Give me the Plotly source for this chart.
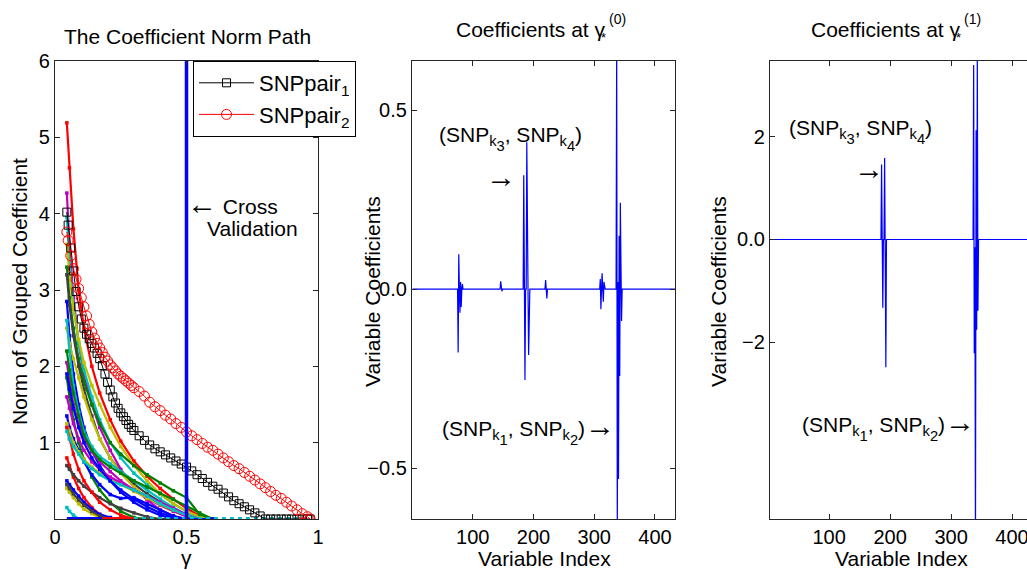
import plotly.graph_objects as go

W, H = 1027, 570

# ---------------- data: left panel (coefficient norm paths) ----------------
GAMMA_HI = [0.045, 0.05, 0.06, 0.07, 0.08, 0.09, 0.10, 0.11, 0.12, 0.13, 0.14, 0.15,
            0.16, 0.17, 0.18, 0.19, 0.20, 0.21, 0.22, 0.23, 0.24, 0.25, 0.26, 0.27,
            0.28, 0.29, 0.30, 0.32, 0.34, 0.36, 0.38, 0.40, 0.42, 0.44, 0.46, 0.48,
            0.50, 0.52, 0.54, 0.56, 0.58, 0.60, 0.62, 0.64, 0.66, 0.68, 0.70, 0.72,
            0.74, 0.76, 0.78, 0.80, 0.82, 0.84, 0.86, 0.88, 0.90, 0.92, 0.94, 0.96, 0.97]
SNPPAIR1 = [4.02, 3.85, 3.55, 3.25, 2.98, 2.78, 2.62, 2.50, 2.42, 2.36, 2.30, 2.24,
            2.17, 2.10, 2.01, 1.90, 1.79, 1.69, 1.60, 1.52, 1.45, 1.39, 1.34, 1.29,
            1.24, 1.20, 1.16, 1.09, 1.03, 0.97, 0.92, 0.88, 0.84, 0.80, 0.76, 0.72,
            0.68, 0.63, 0.58, 0.53, 0.48, 0.43, 0.39, 0.34, 0.29, 0.24, 0.20, 0.16,
            0.12, 0.08, 0.04, 0.0, 0.0, 0.0, 0.0, 0.0, 0.0, 0.0, 0.0, 0.0, 0.0]
SNPPAIR2 = [3.76, 3.65, 3.45, 3.28, 3.14, 3.02, 2.90, 2.78, 2.66, 2.55, 2.45, 2.37,
            2.30, 2.24, 2.18, 2.12, 2.07, 2.02, 1.98, 1.94, 1.90, 1.87, 1.84, 1.81,
            1.78, 1.75, 1.72, 1.67, 1.61, 1.53, 1.47, 1.42, 1.36, 1.31, 1.25, 1.20,
            1.14, 1.09, 1.04, 0.99, 0.94, 0.90, 0.85, 0.80, 0.75, 0.70, 0.66, 0.61,
            0.56, 0.51, 0.46, 0.41, 0.36, 0.31, 0.27, 0.22, 0.17, 0.12, 0.07, 0.03, 0.0]

GAMMA_BG = [0.045, 0.055, 0.07, 0.09, 0.11, 0.14, 0.17, 0.21, 0.25, 0.30, 0.35, 0.40,
            0.45, 0.50, 0.55, 0.60]
BG_COLORS = ["#FF0000", "#BF00BF", "#00BFBF", "#BFBF00", "#008000", "#0000FF",
             "#404040", "#BFBF00", "#BF00BF", "#00BFBF", "#008000", "#0000FF",
             "#FF0000", "#404040", "#00BFBF", "#BFBF00", "#BF00BF", "#008000",
             "#FF0000", "#0000FF", "#00BFBF", "#BFBF00", "#404040", "#0000FF"]
BG_PATHS = [
    [5.19, 4.60, 3.80, 3.00, 2.50, 2.00, 1.65, 1.30, 1.02, 0.76, 0.56, 0.40, 0.26, 0.14, 0.04, 0.0],
    [4.27, 3.60, 2.90, 2.30, 1.90, 1.50, 1.20, 0.90, 0.65, 0.42, 0.25, 0.12, 0.04, 0.0, 0.0, 0.0],
    [3.95, 3.40, 2.80, 2.30, 1.95, 1.60, 1.30, 1.00, 0.80, 0.60, 0.45, 0.32, 0.20, 0.10, 0.02, 0.0],
    [3.60, 3.20, 2.75, 2.35, 2.05, 1.75, 1.50, 1.20, 0.95, 0.70, 0.50, 0.33, 0.20, 0.10, 0.03, 0.0],
    [3.30, 2.90, 2.50, 2.10, 1.80, 1.50, 1.25, 1.00, 0.85, 0.70, 0.58, 0.47, 0.37, 0.28, 0.06, 0.0],
    [2.85, 2.40, 1.90, 1.50, 1.20, 0.90, 0.70, 0.50, 0.35, 0.22, 0.12, 0.05, 0.0, 0.0, 0.0, 0.0],
    [3.20, 2.80, 2.40, 2.00, 1.70, 1.35, 1.05, 0.80, 0.62, 0.46, 0.33, 0.22, 0.12, 0.04, 0.0, 0.0],
    [2.50, 2.30, 2.10, 1.85, 1.60, 1.30, 1.05, 0.80, 0.60, 0.42, 0.28, 0.18, 0.10, 0.04, 0.0, 0.0],
    [2.05, 1.80, 1.50, 1.25, 1.05, 0.88, 0.75, 0.62, 0.50, 0.38, 0.27, 0.18, 0.10, 0.03, 0.0, 0.0],
    [2.60, 2.20, 1.75, 1.40, 1.15, 0.95, 0.82, 0.72, 0.62, 0.50, 0.38, 0.26, 0.15, 0.06, 0.0, 0.0],
    [1.85, 1.60, 1.30, 1.00, 0.78, 0.55, 0.38, 0.22, 0.10, 0.02, 0.0, 0.0, 0.0, 0.0, 0.0, 0.0],
    [1.35, 1.20, 1.05, 0.90, 0.75, 0.58, 0.45, 0.32, 0.27, 0.28, 0.20, 0.11, 0.04, 0.0, 0.0, 0.0],
    [0.80, 0.70, 0.55, 0.40, 0.28, 0.15, 0.06, 0.0, 0.0, 0.0, 0.0, 0.0, 0.0, 0.0, 0.0, 0.0],
    [0.70, 0.65, 0.58, 0.50, 0.43, 0.35, 0.28, 0.20, 0.14, 0.08, 0.03, 0.0, 0.0, 0.0, 0.0, 0.0],
    [0.15, 0.10, 0.05, 0.0, 0.0, 0.0, 0.0, 0.0, 0.0, 0.0, 0.0, 0.0, 0.0, 0.0, 0.0, 0.0],
    [1.25, 1.15, 1.00, 0.88, 0.78, 0.68, 0.60, 0.52, 0.45, 0.36, 0.27, 0.19, 0.12, 0.05, 0.0, 0.0],
    [1.60, 1.45, 1.25, 1.05, 0.90, 0.75, 0.65, 0.55, 0.47, 0.38, 0.30, 0.22, 0.14, 0.06, 0.0, 0.0],
    [2.20, 1.95, 1.65, 1.35, 1.10, 0.90, 0.78, 0.68, 0.60, 0.50, 0.42, 0.34, 0.26, 0.17, 0.08, 0.0],
    [1.20, 1.05, 0.85, 0.65, 0.50, 0.35, 0.22, 0.12, 0.05, 0.0, 0.0, 0.0, 0.0, 0.0, 0.0, 0.0],
    [0.50, 0.45, 0.38, 0.30, 0.22, 0.13, 0.06, 0.02, 0.0, 0.0, 0.0, 0.0, 0.0, 0.0, 0.0, 0.0],
    [1.15, 1.05, 0.95, 0.85, 0.75, 0.66, 0.58, 0.50, 0.45, 0.38, 0.30, 0.20, 0.12, 0.05, 0.0, 0.0],
    [0.40, 0.35, 0.28, 0.20, 0.13, 0.07, 0.02, 0.0, 0.0, 0.0, 0.0, 0.0, 0.0, 0.0, 0.0, 0.0],
    [0.45, 0.40, 0.33, 0.25, 0.18, 0.10, 0.04, 0.0, 0.0, 0.0, 0.0, 0.0, 0.0, 0.0, 0.0, 0.0],
    [1.90, 1.70, 1.45, 1.20, 1.00, 0.80, 0.65, 0.50, 0.38, 0.26, 0.16, 0.08, 0.02, 0.0, 0.0, 0.0],
]
# curves that stay at zero (drawn along the bottom axis)
ZERO_GAMMA = [[0.045, 0.18], [0.18, 0.30], [0.30, 0.97]]
ZERO_VALS = [[0.0, 0.0], [0.0, 0.0], [0.0, 0.0]]
ZERO_COLORS = ["#0000FF", "#FF0000", "#00BFBF"]
CV_GAMMA = [0.5, 0.5]
CV_NORM = [0.0, 6.0]

# ---------------- data: coefficient profiles ----------------
N_VAR = 435
G0_IDX = [76, 77, 79, 80, 81, 83, 146, 148, 184, 186, 189, 192, 220, 222,
          310, 311, 313, 315, 316, 337, 338, 339, 340, 341, 342, 343, 345]
G0_VAL = [-0.177, 0.097, -0.066, 0.02, -0.05, 0.014, 0.022, -0.006, 0.318, -0.254, 0.41, -0.184,
          0.025, -0.026, 0.028, -0.056, 0.044, -0.035, 0.02, 0.70, -0.70, 0.02, -0.53, 0.149,
          -0.243, 0.241, -0.089]
G1_IDX = [186, 188, 191, 193, 337, 338, 339, 340, 341, 342, 343, 344]
G1_VAL = [1.46, -1.33, 1.59, -2.49, 3.40, -2.22, -0.15, -6.0, 2.13, -1.76, 3.7, -1.39]

var_index = list(range(1, N_VAR + 1))
coef0 = [0.0] * N_VAR
for i, v in zip(G0_IDX, G0_VAL):
    coef0[i - 1] = v
coef1 = [0.0] * N_VAR
for i, v in zip(G1_IDX, G1_VAL):
    coef1[i - 1] = v

# ---------------- figure ----------------
FONT = "Liberation Sans, Arial, Helvetica, sans-serif"
fig = go.Figure()

for vals, col in zip(BG_PATHS, BG_COLORS):
    fig.add_trace(go.Scatter(x=GAMMA_BG, y=vals, mode="lines+markers",
                             line=dict(color=col, width=2.2),
                             marker=dict(symbol="square", size=3.5, color=col),
                             showlegend=False, xaxis="x", yaxis="y"))
for gx, gy, col in zip(ZERO_GAMMA, ZERO_VALS, ZERO_COLORS):
    fig.add_trace(go.Scatter(x=gx, y=gy, mode="lines",
                             line=dict(color=col, width=4, dash="dot" if col == "#00BFBF" else "solid"),
                             showlegend=False, xaxis="x", yaxis="y"))

fig.add_trace(go.Scatter(x=GAMMA_HI, y=SNPPAIR1, mode="lines+markers", name="SNPpair<sub>1</sub>",
                         line=dict(color="black", width=1),
                         marker=dict(symbol="square-open", size=8, color="black", line=dict(width=1)),
                         xaxis="x", yaxis="y"))
fig.add_trace(go.Scatter(x=GAMMA_HI, y=SNPPAIR2, mode="lines+markers", name="SNPpair<sub>2</sub>",
                         line=dict(color="#FF0000", width=1),
                         marker=dict(symbol="circle-open", size=10, color="#FF0000", line=dict(width=1)),
                         xaxis="x", yaxis="y"))
fig.add_trace(go.Scatter(x=CV_GAMMA, y=CV_NORM, mode="lines", line=dict(color="#0000FF", width=3.5),
                         showlegend=False, xaxis="x", yaxis="y"))

fig.add_trace(go.Scatter(x=var_index, y=coef0, mode="lines", line=dict(color="#0000FF", width=1.2),
                         showlegend=False, xaxis="x2", yaxis="y2"))
fig.add_trace(go.Scatter(x=var_index, y=coef1, mode="lines", line=dict(color="#0000FF", width=1.2),
                         showlegend=False, xaxis="x3", yaxis="y3"))

def px(x):
    return x / W

def py(y):
    return 1 - y / H

axis_common = dict(showgrid=False, zeroline=False, showline=True, linecolor="#262626",
                   linewidth=1.3, ticks="inside", ticklen=5, tickwidth=1, tickcolor="#262626",
                   automargin=False,
                   tickfont=dict(family=FONT, size=20, color="black"))

yd = [py(519), py(61)]
fig.update_layout(
    template="none",
    width=W, height=H, margin=dict(l=0, r=0, t=0, b=0, pad=0), autosize=False,
    paper_bgcolor="white", plot_bgcolor="white",
    font=dict(family=FONT, color="black"),
    xaxis=dict(domain=[px(55), px(318)], range=[0, 1], tickvals=[0, 0.5, 1], ticktext=["0", "0.5", "1"],
               mirror="ticks", anchor="y", **axis_common),
    yaxis=dict(domain=yd, range=[0, 6], tickvals=[1, 2, 3, 4, 5, 6], mirror="ticks", anchor="x",
               **axis_common),
    xaxis2=dict(domain=[px(412), px(675)], range=[0, 433], tickvals=[100, 200, 300, 400],
                mirror="ticks", anchor="y2", **axis_common),
    yaxis2=dict(domain=yd, range=[-0.642, 0.637], tickvals=[-0.5, 0, 0.5],
                ticktext=["\u22120.5", "0.0", "0.5"], mirror="ticks", anchor="x2", **axis_common),
    xaxis3=dict(domain=[px(770), 1.0], range=[3, 424.5], tickvals=[100, 200, 300, 400],
                mirror="ticks", anchor="y3", ticklabeloverflow="allow", **axis_common),
    yaxis3=dict(domain=yd, range=[-5.45, 3.48], tickvals=[-2, 0, 2],
                ticktext=["\u22122", "0.0", "2"], mirror=False, anchor="x3", **axis_common),
    legend=dict(x=px(193), y=py(61), xanchor="left", yanchor="top", bgcolor="white",
                bordercolor="black", borderwidth=1, font=dict(family=FONT, size=22, color="black"),
                itemwidth=55, tracegroupgap=0),
)

anns = []
def text(x, y, s, size=21, xanchor="left", yanchor="middle", angle=0):
    anns.append(dict(x=px(x), y=py(y), xref="paper", yref="paper", text=s, showarrow=False,
                     xanchor=xanchor, yanchor=yanchor, textangle=angle,
                     font=dict(family=FONT, size=size, color="black")))

ARR_R = '<span style="font-size:30px">\u2192</span>'
ARR_L = '<span style="font-size:30px">\u2190</span>'

# titles
text(187, 37, "The Coefficient Norm Path", xanchor="center")
text(608, 29, "Coefficients at \u03b3", xanchor="right")
text(607, 19, "(0)", size=14)
text(603, 38, "*", size=13, xanchor="center")
text(963, 29, "Coefficients at \u03b3", xanchor="right")
text(962, 19, "(1)", size=14)
text(958, 38, "*", size=13, xanchor="center")
# axis labels
text(19, 292, "Norm of Grouped Coefficient", xanchor="center", angle=-90)
text(186, 557, "\u03b3", xanchor="center")
text(372, 292, "Variable Coefficients", xanchor="center", angle=-90)
text(544, 558, "Variable Index", xanchor="center")
text(718, 292, "Variable Coefficients", xanchor="center", angle=-90)
text(901, 558, "Variable Index", xanchor="center")
# annotations in panels
text(185, 203, ARR_L + " Cross")
text(205, 228, "Validation")
LOW = '<span style="baseline-shift:-5px">'
SNP34 = f"(SNP<sub>k{LOW}3</span></sub>, SNP<sub>k{LOW}4</span></sub>)"
SNP12 = f"(SNP<sub>k{LOW}1</span></sub>, SNP<sub>k{LOW}2</span></sub>)" + ARR_R
text(437, 138, SNP34)
text(484, 176, ARR_R)
text(440, 428, SNP12)
text(787, 131, SNP34)
text(852, 168, ARR_R)
text(800, 424, SNP12)

fig.update_layout(annotations=anns)
fig.write_html("out.html", config={"displayModeBar": False},
               post_script="document.body.style.margin='0px';document.body.style.overflow='hidden';")
